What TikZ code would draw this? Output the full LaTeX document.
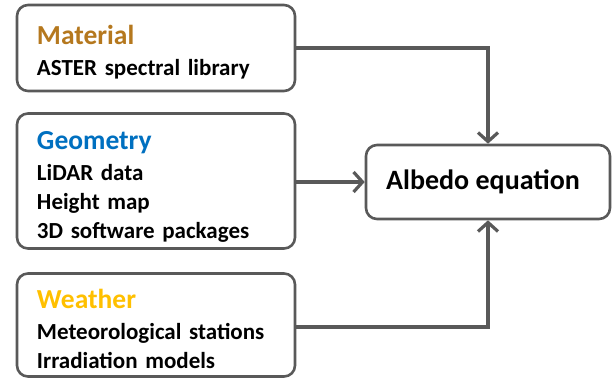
\documentclass[tikz,border=0pt]{standalone}
\usepackage{fontspec}
\setmainfont{Carlito}
\usetikzlibrary{arrows.meta}
\definecolor{linegray}{HTML}{595959}
\definecolor{matcol}{HTML}{B5781E}
\definecolor{geocol}{HTML}{0070C0}
\definecolor{weacol}{HTML}{FFC000}
\tikzset{
  srcbox/.style={draw=linegray, line width=2.6bp, rounded corners=11bp, fill=white,
    minimum width=278bp, text width=238bp, align=left, inner xsep=20bp,
    font=\bfseries\fontsize{23bp}{29bp}\selectfont},
  tgtbox/.style={draw=linegray, line width=2.6bp, rounded corners=11bp, fill=white,
    minimum width=244bp, minimum height=74bp, font=\bfseries\fontsize{28bp}{30bp}\selectfont},
  conn/.style={draw=linegray, line width=3.2bp, -{Straight Barb[length=9bp,width=20bp,line width=3.2bp]}}
}
\newcommand{\boxtitle}[3]{{\color{#1}\fontsize{27.5bp}{30bp}\selectfont\rule{0pt}{#3}#2}}
\begin{document}
\begin{tikzpicture}[x=1bp,y=-1bp]
\useasboundingbox (0,0) rectangle (612,379);
\node[srcbox, minimum height=86bp] (mat) at (156,48)
  {\boxtitle{matcol}{Material}{27bp}\\[2bp] ASTER spectral library};
\node[srcbox, minimum height=135bp] (geo) at (156,181)
  {\boxtitle{geocol}{Geometry}{29bp}\\[2bp] LiDAR data\\ Height map\\ 3D software packages};
\node[srcbox, minimum height=103bp] (wea) at (156,325)
  {\boxtitle{weacol}{Weather}{27bp}\\[2bp] Meteorological stations\\ Irradiation models};
\node[tgtbox] (alb) at (488,182) {\hspace*{-10bp}Albedo equation};
\coordinate (c1) at (488,48);
\coordinate (c3) at (488,327);
\draw[conn] (mat.east |- c1) -- (c1) -- (alb.north);
\draw[conn] (geo.east |- alb) -- (alb.west);
\draw[conn] (wea.east |- c3) -- (c3) -- (alb.south);
\end{tikzpicture}
\end{document}
